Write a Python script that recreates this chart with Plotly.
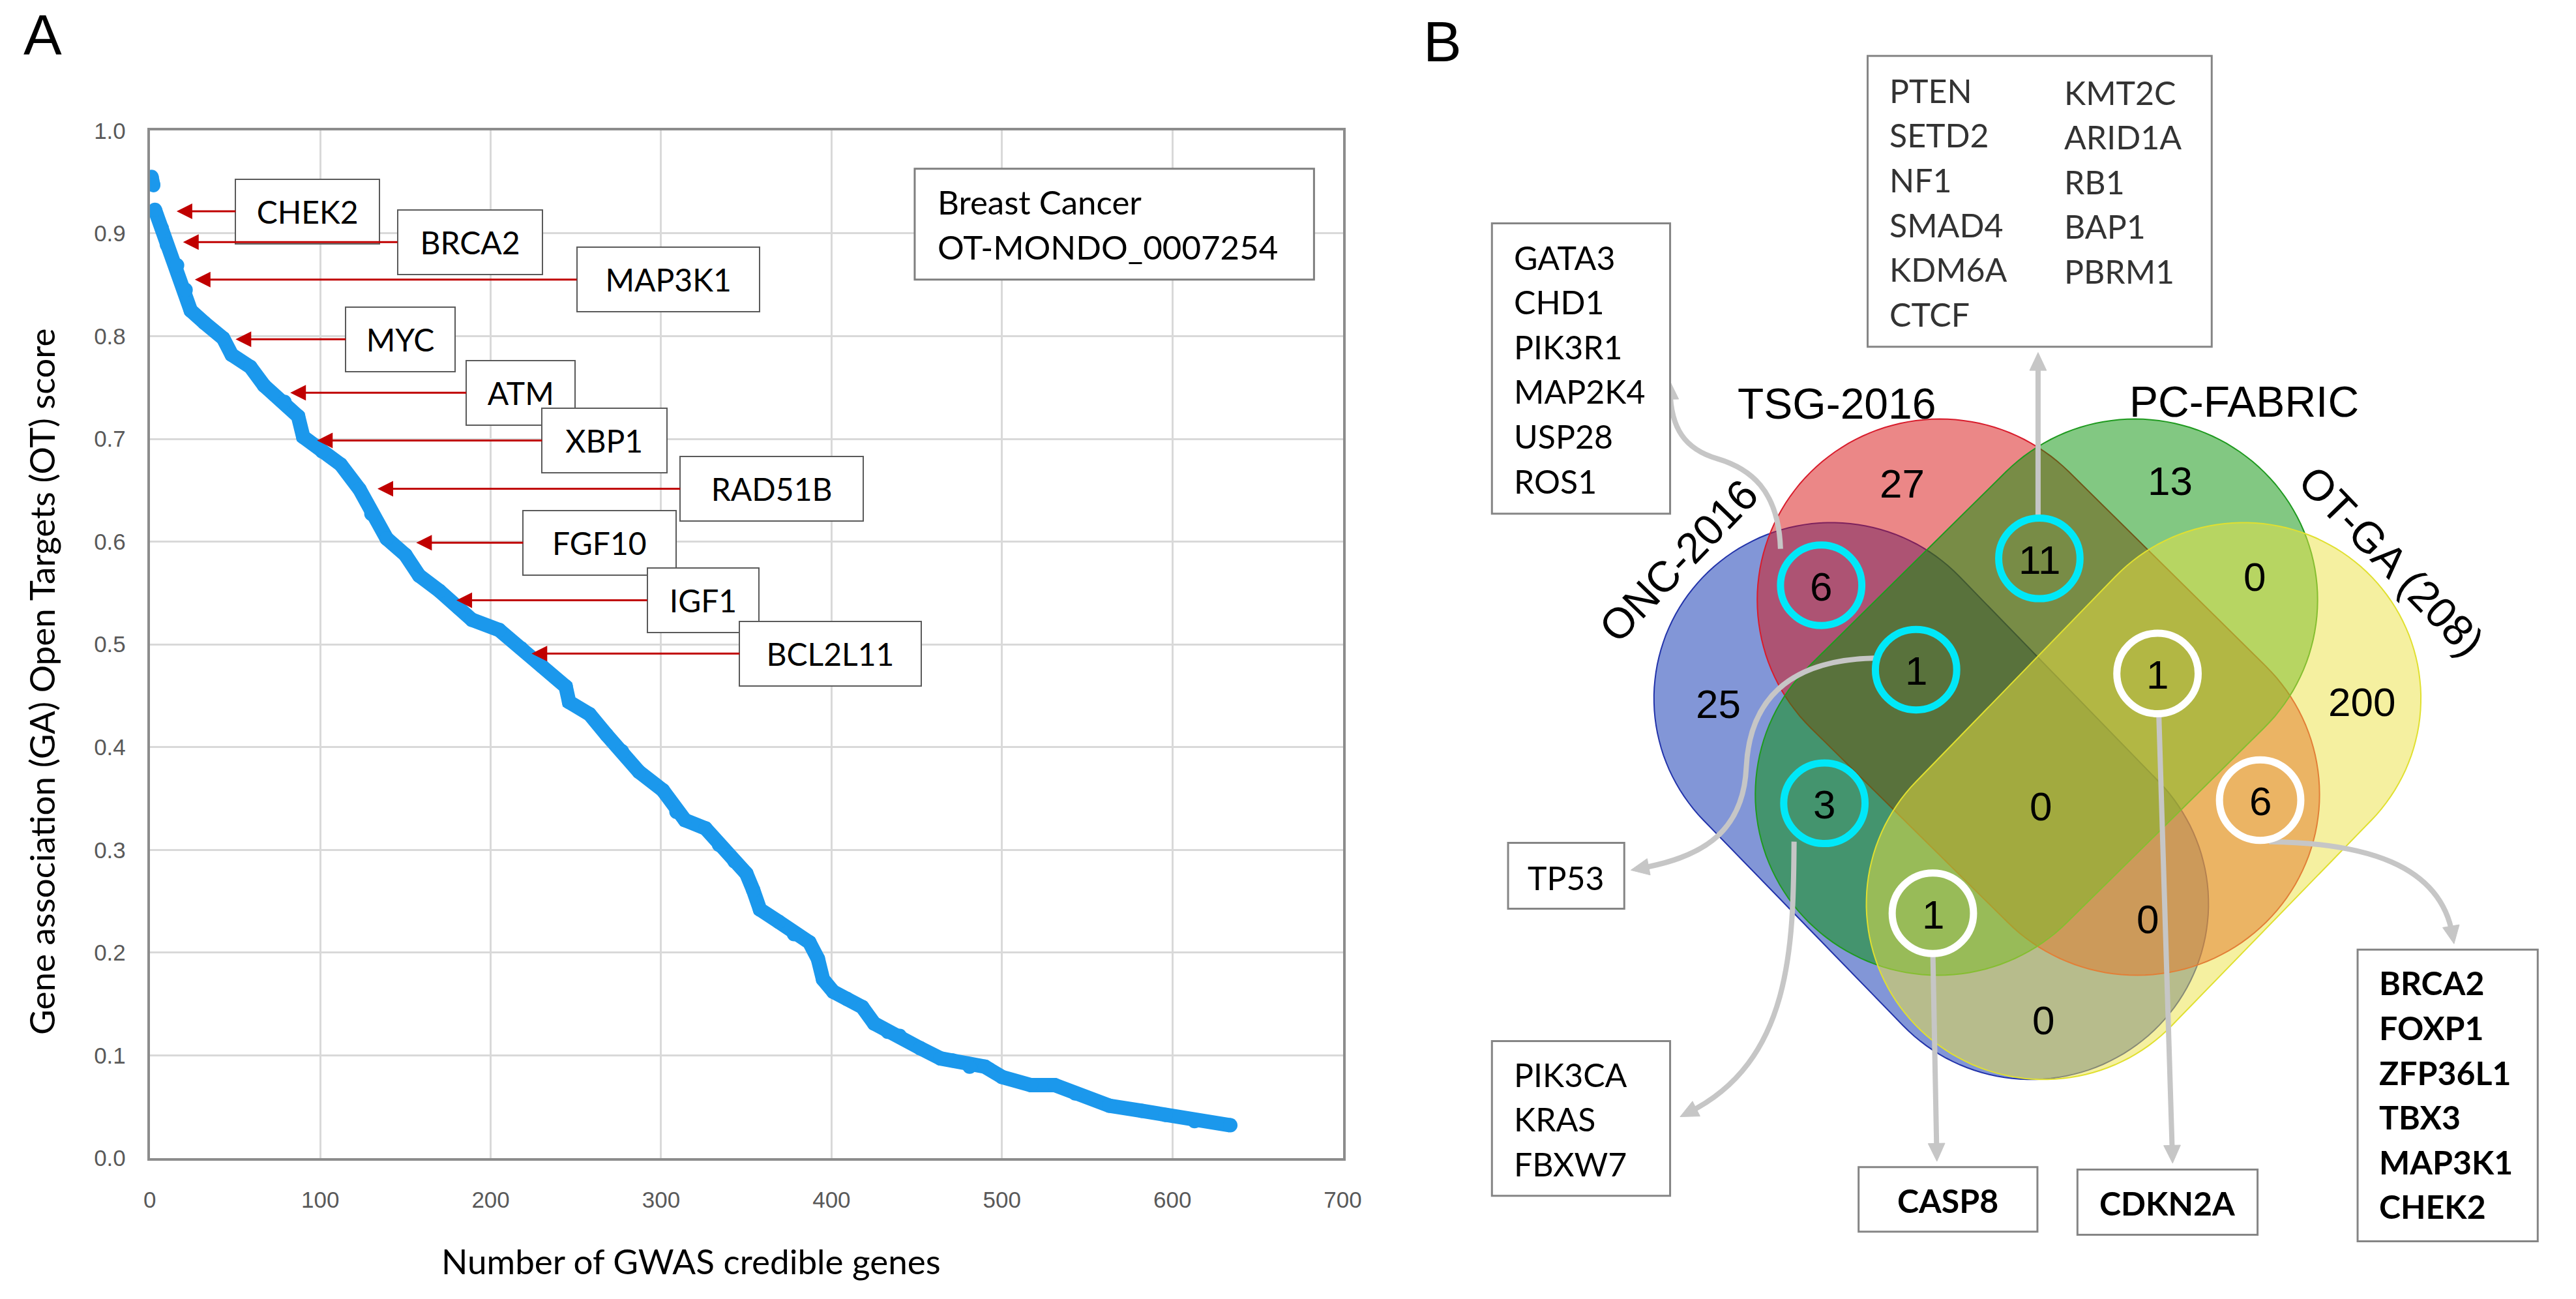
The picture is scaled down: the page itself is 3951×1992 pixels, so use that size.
import math
import plotly.graph_objects as go

W, H = 3951, 1992

# ---------------- Panel A data ----------------
gene_rank = [1, 2, None, 3, 7, 10, 16, 21, 24, 32, 43, 48, 59, 67, 79, 87, 90, 101, 112, 123,
             130, 139, 150, 158, 170, 181, 189, 205, 218, 230, 244, 246, 258, 268, 277, 287,
             301, 309, 314, 326, 334, 343, 350, 354, 358, 369, 378, 387, 392, 395, 401, 409,
             418, 425, 433, 440, 452, 464, 471, 481, 490, 500, 517, 531, 543, 563, 582, 596,
             613, 634]
ot_score = [0.955, 0.947, None, 0.923, 0.905, 0.889, 0.869, 0.845, 0.825, 0.813, 0.798, 0.782,
            0.770, 0.752, 0.736, 0.722, 0.702, 0.688, 0.675, 0.651, 0.627, 0.603, 0.587, 0.567,
            0.552, 0.536, 0.524, 0.514, 0.496, 0.479, 0.459, 0.444, 0.432, 0.412, 0.396, 0.376,
            0.358, 0.337, 0.329, 0.321, 0.305, 0.289, 0.277, 0.261, 0.242, 0.230, 0.218, 0.210,
            0.194, 0.174, 0.162, 0.155, 0.147, 0.131, 0.123, 0.119, 0.107, 0.097, 0.095, 0.089,
            0.089, 0.079, 0.071, 0.071, 0.063, 0.051, 0.046, 0.042, 0.036, 0.032]

marked_genes = ["CHEK2", "BRCA2", "MAP3K1", "MYC", "ATM", "XBP1", "RAD51B", "FGF10", "IGF1", "BCL2L11"]
marked_rank = [15.7, 19.5, 26.4, 50.3, 82.4, 98.1, 133.6, 156.3, 179.9, 224.0]
marked_score = [0.9215, 0.8915, 0.855, 0.797, 0.745, 0.6985, 0.6515, 0.599, 0.543, 0.491]

x_ticks = [0, 100, 200, 300, 400, 500, 600, 700]
y_ticks = [0.0, 0.1, 0.2, 0.3, 0.4, 0.5, 0.6, 0.7, 0.8, 0.9, 1.0]

disease_lines = ["Breast Cancer", "OT-MONDO_0007254"]

# ---------------- Panel B data ----------------
set_names = ["ONC-2016", "TSG-2016", "PC-FABRIC", "OT-GA (208)"]
region_names = ["ONC", "TSG", "PC", "OT", "ONC&TSG", "TSG&PC", "PC&OT", "ONC&PC",
                "ONC&TSG&PC", "TSG&PC&OT", "ONC&PC&OT", "TSG&OT", "ALL", "ONC&TSG&OT", "ONC&OT"]
region_counts = [25, 27, 13, 200, 6, 11, 0, 3, 1, 1, 1, 6, 0, 0, 0]

genes_onc_tsg = ["GATA3", "CHD1", "PIK3R1", "MAP2K4", "USP28", "ROS1"]
genes_tsg_pc_a = ["PTEN", "SETD2", "NF1", "SMAD4", "KDM6A", "CTCF"]
genes_tsg_pc_b = ["KMT2C", "ARID1A", "RB1", "BAP1", "PBRM1"]
genes_onc_tsg_pc = ["TP53"]
genes_onc_pc = ["PIK3CA", "KRAS", "FBXW7"]
genes_onc_pc_ot = ["CASP8"]
genes_tsg_pc_ot = ["CDKN2A"]
genes_tsg_ot = ["BRCA2", "FOXP1", "ZFP36L1", "TBX3", "MAP3K1", "CHEK2"]

# ---------------- layout geometry (pixels) ----------------
AX0, AX1, AYT, AYB = 222, 2070, 184, 1791
PX_RANK = (AX1 - AX0) / 700.0
PX_SCORE = (AYB - AYT) / 1.0
BLUE = "#1b98ec"
CALIBRI = "Lato"
ARIAL = "Liberation Sans"

marked_box_x = [(50.3, 134.9), (145.3, 230.2), (250.6, 357.5), (114.8, 179.2), (185.5, 249.7),
                (230.2, 303.5), (311.3, 418.6), (219.2, 308.8), (291.8, 357.3), (346.2, 452.6)]
BOX_H_SCORE = 0.063

fig = go.Figure()
fig.add_trace(go.Scatter(x=gene_rank, y=ot_score, mode="lines+markers", connectgaps=False,
                         line=dict(color=BLUE, width=22), marker=dict(color=BLUE, size=22),
                         xaxis="x", yaxis="y", showlegend=False, hoverinfo="skip"))
fig.add_trace(go.Scatter(x=[None], y=[None], xaxis="x2", yaxis="y2", showlegend=False,
                         hoverinfo="skip"))

axis_common = dict(showgrid=True, gridcolor="#d9d9d9", gridwidth=3, zeroline=False,
                   showline=True, linecolor="#8c8c8c", linewidth=4, mirror=True,
                   ticks="outside", tickcolor="rgba(0,0,0,0)",
                   tickfont=dict(family=ARIAL, size=35, color="#595959"))

fig.update_layout(
    width=W, height=H, margin=dict(l=0, r=0, t=0, b=0),
    paper_bgcolor="white", plot_bgcolor="rgba(0,0,0,0)", showlegend=False,
    xaxis=dict(domain=[AX0 / W, AX1 / W], range=[0, 700], tickvals=x_ticks, anchor="y",
               ticklen=30, **axis_common),
    yaxis=dict(domain=[1 - AYB / H, 1 - AYT / H], range=[0, 1.0], tickvals=y_ticks,
               tickformat=".1f", anchor="x", ticklen=26, **axis_common),
    xaxis2=dict(domain=[0, 1], range=[0, W], visible=False, anchor="y2"),
    yaxis2=dict(domain=[0, 1], range=[H, 0], visible=False, anchor="x2"),
)

shapes = []
ann = []

def px_text(x, y, text, size, family=CALIBRI, color="black", xanchor="center", bold=False,
            angle=0):
    if bold:
        text = "<b>" + text + "</b>"
    ann.append(dict(x=x, y=y, xref="x2", yref="y2", text=text, showarrow=False,
                    xanchor=xanchor, yanchor="middle", textangle=angle,
                    font=dict(family=family, size=size, color=color)))

# ---- panel letters, axis titles
px_text(56, 34, "A", 88, family=ARIAL)
px_text(2224, 44, "B", 88, family=ARIAL)
px_text(1060, 1952, "Number of GWAS credible genes", 53)
px_text(54, 1046, "Gene association (GA) Open Targets (OT) score", 53, angle=-90)

# ---- Panel A: disease box
shapes.append(dict(type="rect", xref="x", yref="y", x0=448.8, x1=683.1, y0=0.855, y1=0.963,
                   line=dict(color="#7f7f7f", width=3), fillcolor="white"))
for txt, yv in zip(disease_lines, [0.931, 0.887]):
    ann.append(dict(x=461.4, y=yv, xref="x", yref="y", text=txt, showarrow=False,
                    xanchor="left", yanchor="middle",
                    font=dict(family=CALIBRI, size=51, color="black")))

# ---- Panel A: gene callouts with red arrows
for g, tr, sc, (bx0, bx1) in zip(marked_genes, marked_rank, marked_score, marked_box_x):
    wpx = (bx1 - bx0) * PX_RANK
    hpx = BOX_H_SCORE * PX_SCORE
    ann.append(dict(x=tr, y=sc, ax=(bx0 + bx1) / 2, ay=sc, xref="x", yref="y", axref="x",
                    ayref="y", text=g, showarrow=True, arrowhead=2, arrowsize=1.6,
                    arrowwidth=3, arrowcolor="#c00000", standoff=0,
                    font=dict(family=CALIBRI, size=48, color="black"), bgcolor="white",
                    bordercolor="#5a5a5a", borderwidth=2, borderpad=0,
                    width=wpx - 4, height=hpx - 4, align="center", valign="middle"))

# ---- Panel B: Venn shapes (stadium shapes, pixel space)
def stadium(c1, c2, r, n=72):
    a = math.atan2(c2[1] - c1[1], c2[0] - c1[0])
    pts = []
    for i in range(n + 1):
        t = a - math.pi / 2 + math.pi * i / n
        pts.append((c2[0] + r * math.cos(t), c2[1] + r * math.sin(t)))
    for i in range(n + 1):
        t = a + math.pi / 2 + math.pi * i / n
        pts.append((c1[0] + r * math.cos(t), c1[1] + r * math.sin(t)))
    return "M " + " L ".join(f"{x:.1f},{y:.1f}" for x, y in pts) + " Z"

venn_geom = [  # order drawn: ONC, TSG, PC, OT
    dict(c1=(2827, 1072), c2=(3136, 1393), r=275, fill="rgba(5,45,175,0.5)", line="#2233aa"),
    dict(c1=(2995, 918), c2=(3300, 1222), r=283, fill="rgba(215,15,15,0.5)", line="#d81c2c"),
    dict(c1=(3297, 918), c2=(2992, 1222), r=283, fill="rgba(5,145,5,0.5)", line="#1f9a1f"),
    dict(c1=(3465, 1072), c2=(3156, 1393), r=275, fill="rgba(235,225,65,0.5)", line="#e0e030"),
]
for g in venn_geom:
    shapes.append(dict(type="path", xref="x2", yref="y2", path=stadium(g["c1"], g["c2"], g["r"]),
                       fillcolor=g["fill"], line=dict(color=g["line"], width=2)))

# set labels
set_label_pos = [(2590, 857, -46), (2835, 611, 0), (3466, 608, 0), (3694, 857, 46)]
for name, (x, y, ang) in zip(set_names, set_label_pos):
    px_text(x, y, name, 66, family=ARIAL, angle=ang)

# region counts
region_pos = {"ONC": (2652, 1079), "TSG": (2936, 734), "PC": (3352, 730), "OT": (3649, 1076),
              "ONC&TSG": (2811, 895), "TSG&PC": (3149, 853), "PC&OT": (3482, 880),
              "ONC&PC": (2816, 1236), "ONC&TSG&PC": (2958, 1027), "TSG&PC&OT": (3332, 1033),
              "ONC&PC&OT": (2984, 1408), "TSG&OT": (3491, 1231), "ALL": (3151, 1239),
              "ONC&TSG&OT": (3317, 1415), "ONC&OT": (3155, 1573)}
ring_color = {"ONC&TSG": "#00e8f8", "TSG&PC": "#00e8f8", "ONC&TSG&PC": "#00e8f8",
              "ONC&PC": "#00e8f8", "TSG&PC&OT": "white", "ONC&PC&OT": "white", "TSG&OT": "white"}

# connectors (gray curved arrows) : start point, then cubic segments
connectors = [
    [(2748, 838), (2745, 745), (2700, 712), (2650, 697), (2600, 682), (2578, 650), (2577, 590)],
    [(3147, 790), (3147, 700), (3147, 620), (3147, 545)],
    [(2893, 1009), (2760, 1012), (2700, 1075), (2695, 1180), (2690, 1290), (2615, 1322), (2530, 1338)],
    [(2769, 1296), (2768, 1460), (2765, 1640), (2605, 1720)],
    [(2984, 1470), (2986, 1600), (2988, 1700), (2990, 1782)],
    [(3334, 1095), (3340, 1350), (3350, 1600), (3355, 1785)],
    [(3505, 1296), (3650, 1298), (3770, 1330), (3789, 1442)],
]
GRAY = "#c6c6c6"
for pts in connectors:
    path = f"M {pts[0][0]},{pts[0][1]}"
    for i in range(1, len(pts), 3):
        (a, b), (c, d), (e, f) = pts[i], pts[i + 1], pts[i + 2]
        path += f" C {a},{b} {c},{d} {e},{f}"
    shapes.append(dict(type="path", xref="x2", yref="y2", path=path,
                       line=dict(color=GRAY, width=8)))
    (px0, py0), (px1, py1) = pts[-2], pts[-1]
    L = math.hypot(px1 - px0, py1 - py0)
    ux, uy = (px1 - px0) / L, (py1 - py0) / L
    tipx, tipy = px1 + ux * 14, py1 + uy * 14
    bx, by = tipx - ux * 28, tipy - uy * 28
    nx, ny = -uy, ux
    tri = (f"M {tipx:.1f},{tipy:.1f} L {bx + nx * 13:.1f},{by + ny * 13:.1f} "
           f"L {bx - nx * 13:.1f},{by - ny * 13:.1f} Z")
    shapes.append(dict(type="path", xref="x2", yref="y2", path=tri, fillcolor=GRAY,
                       line=dict(color=GRAY, width=1)))

for name, cnt in zip(region_names, region_counts):
    x, y = region_pos[name]
    if name in ring_color:
        r = 63
        shapes.append(dict(type="circle", xref="x2", yref="y2", x0=x - r, x1=x + r,
                           y0=y - r, y1=y + r, line=dict(color=ring_color[name], width=11)))
    px_text(x, y + 2, str(cnt), 62, family=ARIAL)

# gene list boxes
def box(x0, y0, x1, y1):
    shapes.append(dict(type="rect", xref="x2", yref="y2", x0=x0, x1=x1, y0=y0, y1=y1,
                       line=dict(color="#858585", width=3), fillcolor="white"))

def gene_lines(genes, x, y0, step=70, bold=False, color="black"):
    for i, gname in enumerate(genes):
        px_text(x, y0 + i * step, gname, 50, xanchor="left", bold=bold, color=color)

box(2301, 329, 2577, 783)
gene_lines(genes_onc_tsg, 2333, 382)
box(2883, 67, 3416, 522)
gene_lines(genes_tsg_pc_a, 2915, 121, color="#333333")
gene_lines(genes_tsg_pc_b, 3185, 124, color="#333333")
box(2326, 1298, 2506, 1401)
px_text(2416, 1352, genes_onc_tsg_pc[0], 50)
box(2301, 1608, 2577, 1850)
gene_lines(genes_onc_pc, 2333, 1660)
box(2869, 1805, 3146, 1906)
px_text(3007, 1857, genes_onc_pc_ot[0], 50, bold=True)
box(3208, 1809, 3487, 1911)
px_text(3347, 1861, genes_tsg_pc_ot[0], 50, bold=True)
box(3642, 1465, 3921, 1921)
gene_lines(genes_tsg_ot, 3673, 1517, step=70, bold=True)

fig.update_layout(shapes=shapes, annotations=ann)
fig.write_html("out.html", config={"displayModeBar": False},
               post_script="document.body.style.margin='0px';")
